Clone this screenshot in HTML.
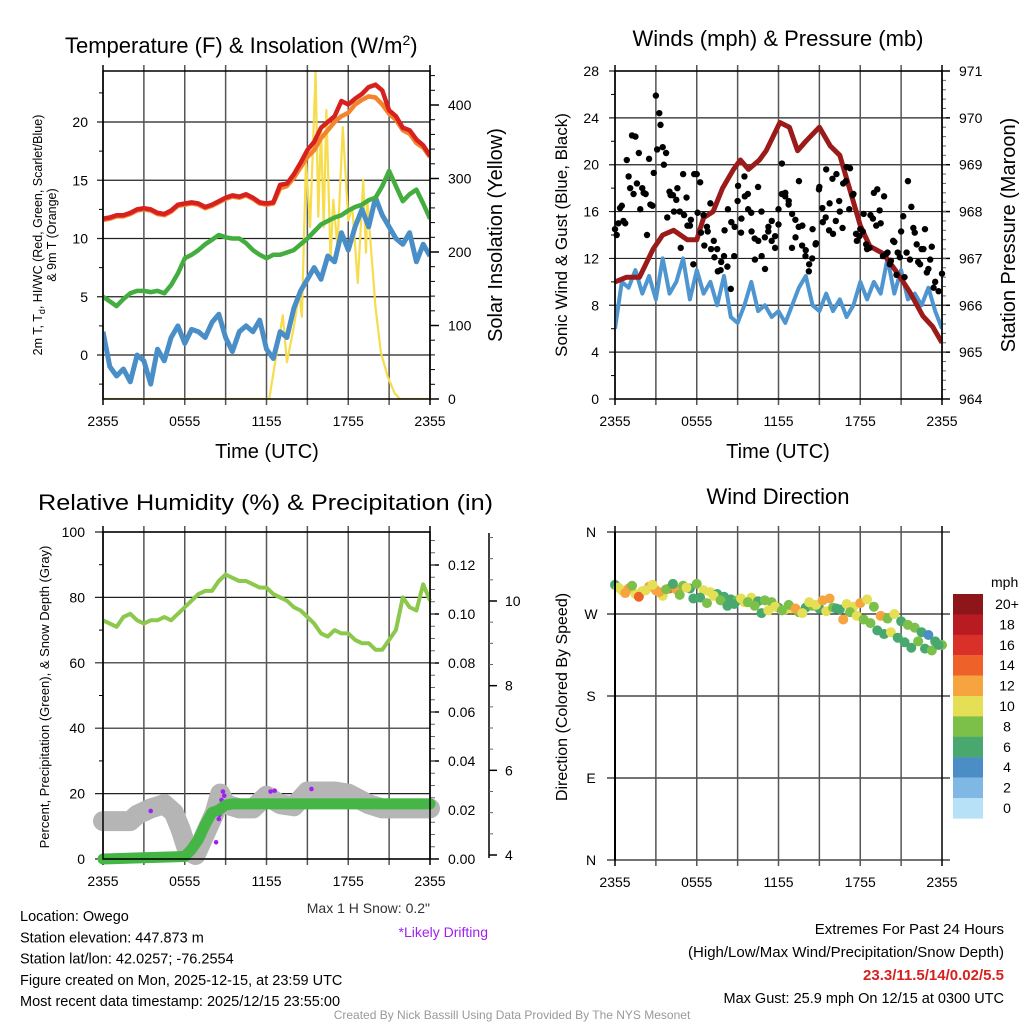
<!DOCTYPE html>
<html><head><meta charset="utf-8"><style>
html,body{margin:0;padding:0;background:#fff;width:1024px;height:1024px;overflow:hidden}
svg{display:block;font-family:"Liberation Sans",sans-serif}
</style></head><body>
<svg id="fig" width="1024" height="1024" viewBox="0 0 1024 1024"></svg>
<script>
// ---------- DATA ----------
const xTickLabels = ["2355","0555","1155","1755","2355"];
const tempT = [11.7,11.8,12.0,12.0,12.2,12.5,12.6,12.5,12.2,12.1,12.4,12.9,13.0,13.1,13.0,12.7,12.9,13.2,13.5,13.7,13.6,13.8,13.5,13.1,13.0,13.1,14.6,14.7,15.5,16.5,17.6,18.3,19.5,20.0,20.5,21.8,21.5,22.0,22.4,23.0,23.2,22.7,21.0,20.5,19.5,19.3,18.5,18.0,17.1];
const temp9 = [11.6,11.7,11.9,11.9,12.1,12.4,12.5,12.4,12.1,12.0,12.3,12.8,12.9,13.0,12.9,12.6,12.8,13.1,13.4,13.6,13.5,13.7,13.4,13.0,12.9,13.0,14.3,14.5,15.2,16.1,17.0,17.6,18.6,19.3,20.0,20.5,20.8,21.5,21.9,22.2,22.1,21.5,20.7,20.2,19.3,19.0,18.2,17.8,17.0];
const dewPt = [5.0,4.6,4.2,4.8,5.3,5.5,5.5,5.4,5.5,5.3,6.0,7.0,8.3,8.6,9.0,9.5,9.9,10.3,10.1,10.0,10.0,9.6,9.0,8.6,8.3,8.6,8.6,8.8,9.0,9.5,10.0,10.6,11.2,11.5,11.8,12.0,12.4,12.7,12.9,13.3,13.5,14.5,15.8,14.5,13.2,13.8,14.2,13.0,11.7];
const windChill = [2.0,-1.0,-1.8,-1.2,-2.3,0.0,-0.5,-2.5,0.5,-0.5,1.5,2.5,1.0,2.2,2.0,1.5,2.8,3.5,1.5,0.3,2.0,2.5,2.0,3.0,0.5,-0.3,2.0,1.5,4.0,5.5,6.5,7.5,6.5,8.5,8.0,10.5,9.0,11.0,12.5,11.0,13.5,12.0,11.0,10.0,9.5,10.5,8.0,9.5,8.5];
const solarHours = [0,12.2,13.2,13.5,14.0,14.4,14.6,14.9,15.2,15.6,15.8,16.0,16.2,16.4,16.7,16.9,17.2,17.6,18.0,18.3,18.7,19.1,19.3,19.4,20.0,20.4,20.9,21.4,21.8,24];
const solarValues = [0,0,114,50,98,144,112,325,234,445,248,370,234,393,189,271,207,370,243,261,158,298,199,271,125,63,30,8,0,0];
const windSpeed = [6,10,9.5,11,9,10.5,8.5,12,9,10,12,8.5,11,9,10,8,10.5,7,6.5,8,10,7.5,8,7,7.5,6.5,8,9.5,10.5,8,7.5,9,7.5,8.5,7,8,10,8.5,10,9,12,9,11,8.5,9,8,9.5,7.5,6];
const pressureHours = [0,0.85,1.8,2.8,3.5,4.3,5.3,6.0,6.5,7.2,7.9,8.7,9.2,9.8,10.6,11.1,12.1,12.8,13.4,14.0,15.0,15.8,16.5,17.2,18.0,18.7,19.7,20.7,21.6,22.6,23.3,24];
const pressureValues = [966.5,966.6,966.6,967.2,967.5,967.6,967.4,967.4,967.87,968.0,968.5,968.9,969.1,968.9,969.1,969.3,969.9,969.8,969.3,969.5,969.8,969.4,969.2,968.5,967.7,967.26,967.1,966.7,966.3,965.77,965.55,965.2];
const gustA = [14.5,15,16.5,15,19,22.5,22.4,21,18,17.5,20.5,16.5,25.9,24.4,21.5,21,17.7,17.4,17,16,19.2,17.2,14.8,11.5,19.2,18.5,15.7,14.7,16.7,13.5,12.8,11,12.2,11.3,9.4,12.2,16.9,14.2,19,17.5,15.9,13.7,18.1,16,13.8,14.3,13.5,12.9,16.2,20.1,17.6,16.9,15.8,13.8,18.6,14.8,12.7,11.5,14.5,13.3,18.1,15.1,19.6,16.7,14.1,19.2,16,18.4,19.8,19.7,17.5,13.5,14.5,15.8,12.8,15.7,17.6,17.9,15,17.3,12.5,11.8,13.4,12.5,14.3,10.4,18.6,16.4,14.2,11.7,12.8,14.5,11.1,13,10,9.2,10.7];
const gustB = [14,16.3,15.2,20.4,18,17.5,18.4,16.2,17.6,14,16.6,19.3,21.3,23.4,20,15.5,17.4,16,18,12.9,15.7,14.8,15.3,19.2,15.9,14.2,13.1,14.3,12.8,12.1,10.9,11.7,14.4,16.2,15.1,14.7,18.2,15.4,17.3,16.2,14.3,11.9,13.5,12.2,11.1,14.7,15.2,13.9,14.9,17.5,17.3,16.6,12.9,15.3,14.7,13.1,12.2,10.9,12,13.2,17.9,16.3,15.5,14.4,18.8,15.2,16.9,14.6,18.6,16.2,17.4,14.1,13.9,14.3,13.2,12.9,15.4,14.8,16.1,12.2,12.4,11.5,13.5,10.6,12.1,15.6,12.5,11.9,14.6,13.2,11.5,12.8,10.8,11.9,9.5];
const relHum = [73,72,71,74,75,73,72,73,73,74,73,75,77,79,81,82,82,85,87,86,85,85,84,83,83,81,80,79,77,76,74,72,69,68,70,69,69,67,66,66,64,64,67,70,80,77,76,84,79];
const precipHours = [0,6,6.5,7,7.5,8,8.5,9,9.5,24];
const precipValues = [0,0.001,0.004,0.008,0.014,0.019,0.020,0.022,0.0225,0.0225];
const snowHours = [0,2,2.5,3.5,4.5,5.2,5.7,6.2,6.8,7.5,8.2,8.6,9,10,11,12,13,14,15,17,18,19.5,20.5,24];
const snowValues = [4.8,4.8,4.95,5.1,5.2,5.0,4.6,4.1,4.0,4.5,5.0,5.45,5.2,5.1,5.1,5.4,5.2,5.15,5.5,5.5,5.45,5.2,5.1,5.1];
const driftHours = [3.5,8.3,8.5,8.55,8.7,8.8,8.9,12.3,12.6,15.3];
const driftValues = [5.04,4.3,4.85,4.95,5.3,5.5,5.4,5.5,5.52,5.56];
const dirA = [302,296,298,292,295,300,296,290,298,297,301,298,303,296,294,292,289,286,285,283,288,284,285,283,277,275,276,272,277,279,276,273,277,275,281,278,282,286,278,268,265,270,262,258,255,250,247,240,236];
const spdA = [7,10,12,11,10,13,12,10,14,12,8,6,8,10,10,6,6,7,8,10,10,7,8,8,6,10,10,8,7,8,6,10,8,7,10,10,12,10,8,13,8,10,6,8,8,6,4,7,8];
const dirB = [299,293,301,289,296,302,294,297,303,291,299,287,288,282,290,285,279,281,287,283,279,271,274,278,274,280,276,271,283,280,285,287,276,264,272,268,264,260,252,248,250,244,239,233,240,232,230,236];
const spdB = [10,12,9,14,10,10,12,8,6,8,10,7,6,8,10,8,7,6,10,9,8,7,10,10,8,8,12,10,10,11,13,12,7,12,8,11,8,8,7,6,10,6,7,6,8,6,8,6];
const cbarLabels = ["20+","18","16","14","12","10","8","6","4","2","0"];
const cbarColors = ["#8e1518","#b81b22","#d9312a","#ee6229","#f6a440","#e5df55","#7cc04a","#48a86e","#4b8ec6","#7fb9e3","#b6e1f6"];

// ---------- HELPERS ----------
const NS="http://www.w3.org/2000/svg", svg=document.getElementById('fig');
function el(tag,attrs,parent){const e=document.createElementNS(NS,tag);for(const k in attrs)e.setAttribute(k,attrs[k]);(parent||svg).appendChild(e);return e;}
function txt(s,x,y,size,attrs,parent){const e=el('text',Object.assign({x:x,y:y,'font-size':size},attrs||{}),parent);e.textContent=s;return e;}
function lin(d0,d1,r0,r1){return v=>r0+(v-d0)/(d1-d0)*(r1-r0);}
function hoursOf(arr){return arr.map((_,i)=>i*24/(arr.length-1));}
function pathFrom(hs,vs,X,Y){return hs.map((h,i)=>(i?'L':'M')+X(h).toFixed(1)+','+Y(vs[i]).toFixed(1)).join('');}

function frame(g,x0,x1,y0,y1){
  el('rect',{x:x0,y:y0,width:x1-x0,height:y1-y0,fill:'none',stroke:'#000','stroke-width':1.5},g);
}
function vgrid(g,x0,x1,y0,y1){
  for(let i=0;i<=8;i++){const x=x0+i*(x1-x0)/8;
    el('line',{x1:x,y1:y0-6,x2:x,y2:y1+6,stroke:i%8==0?'#000':'#555','stroke-width':1.5},g);}
  xTickLabels.forEach((s,i)=>{const t=txt(s,x0+i*(x1-x0)/4,y1+27,14,{'text-anchor':'middle'},g);
    
    });
}

// ---------- PANEL 1: Temperature ----------
{
const g=el('g',{});


const x0=103,x1=430,y0=71,y1=399;
const X=lin(0,24,x0,x1), Y=lin(0,20,355,122), YS=lin(0,400,399,105);
[0,5,10,15,20].forEach(v=>{el('line',{x1:x0-6,y1:Y(v),x2:x1,y2:Y(v),stroke:'#222','stroke-width':1.2},g);
  const t=txt(v,x0-15,Y(v)+5,14,{'text-anchor':'end'},g);
  
  });
for(let v=-2.5;v<24;v+=5){el('line',{x1:x0-4,y1:Y(v),x2:x0,y2:Y(v),stroke:'#000'},g);}
[0,100,200,300,400].forEach(v=>{el('line',{x1:x1,y1:YS(v),x2:x1+9,y2:YS(v),stroke:'#000','stroke-width':1.5},g);
  const t=txt(v,x1+18,YS(v)+5,14,{},g);
  
  });
for(let v=20;v<=440;v+=20){if(v%100)el('line',{x1:x1,y1:YS(v),x2:x1+5,y2:YS(v),stroke:'#000'},g);}
vgrid(g,x0,x1,y0,y1);
const clip=el('clipPath',{id:'c1'},g);el('rect',{x:x0,y:y0,width:x1-x0,height:y1-y0},clip);
const pg=el('g',{'clip-path':'url(#c1)'},g);
const sol=el('path',{d:pathFrom(solarHours,solarValues,X,YS),fill:'none',stroke:'#f7dc4c','stroke-width':2.2,'stroke-linejoin':'round'},pg);


const wc=el('path',{d:pathFrom(hoursOf(windChill),windChill,X,Y),fill:'none',stroke:'#4a8ec8','stroke-width':5,'stroke-linejoin':'round'},pg);


const dw=el('path',{d:pathFrom(hoursOf(dewPt),dewPt,X,Y),fill:'none',stroke:'#43ad3f','stroke-width':4.5,'stroke-linejoin':'round'},pg);


const t9=el('path',{d:pathFrom(hoursOf(temp9),temp9,X,Y),fill:'none',stroke:'#f4842c','stroke-width':4.5,'stroke-linejoin':'round'},pg);


const tt=el('path',{d:pathFrom(hoursOf(tempT),tempT,X,Y),fill:'none',stroke:'#d7211f','stroke-width':4.5,'stroke-linejoin':'round'},pg);


frame(g,x0,x1,y0,y1);
const ti=txt('Temperature (F) & Insolation (W/m',65,53,22,{},g);
const sup=el('tspan',{dy:-8,'font-size':14},ti);sup.textContent='2';
const cl=el('tspan',{dy:8},ti);cl.textContent=')';


const yl=el('text',{transform:'translate(42,235) rotate(-90)','text-anchor':'middle','font-size':12.5},g);


const a=el('tspan',{x:0,dy:0},yl);a.textContent='2m T, T';
const s=el('tspan',{dy:3,'font-size':9},yl);s.textContent='d';
const b=el('tspan',{dy:-3},yl);b.textContent=', HI/WC (Red, Green, Scarlet/Blue)';
const c=el('tspan',{x:0,dy:14},yl);c.textContent='& 9m T (Orange)';
const yr=txt('Solar Insolation (Yellow)',0,0,20,{transform:'translate(502,235) rotate(-90)','text-anchor':'middle'},g);


const xl=txt('Time (UTC)',267,458,20,{'text-anchor':'middle'},g);


}

// ---------- PANEL 2: Winds ----------
{
const g=el('g',{});


const x0=615,x1=942,y0=71,y1=399;
const X=lin(0,24,x0,x1), Y=lin(0,28,y1,y0), YP=lin(964,971,y1,y0);
for(let v=0;v<=28;v+=4){el('line',{x1:x0-6,y1:Y(v),x2:x1,y2:Y(v),stroke:'#222','stroke-width':1.2},g);
  const t=txt(v,x0-16,Y(v)+5,14,{'text-anchor':'end'},g);
  
  }
for(let v=2;v<28;v+=4){el('line',{x1:x0-4,y1:Y(v),x2:x0,y2:Y(v),stroke:'#000'},g);}
for(let v=964;v<=971;v++){el('line',{x1:x1,y1:YP(v),x2:x1+8,y2:YP(v),stroke:'#000','stroke-width':1.5},g);
  const t=txt(v,x1+17,YP(v)+5,14,{},g);
  
  }
for(let v=964.2;v<971;v+=0.2){el('line',{x1:x1,y1:YP(v),x2:x1+4,y2:YP(v),stroke:'#666'},g);}
vgrid(g,x0,x1,y0,y1);
const clip=el('clipPath',{id:'c2'},g);el('rect',{x:x0,y:y0,width:x1-x0,height:y1-y0},clip);
const pg=el('g',{'clip-path':'url(#c2)'},g);
const ws=el('path',{d:pathFrom(hoursOf(windSpeed),windSpeed,X,Y),fill:'none',stroke:'#4f96d0','stroke-width':4,'stroke-linejoin':'round'},pg);


const gg=el('g',{},g);


gustA.forEach((v,i)=>{const d=el('circle',{cx:X(i*24/(gustA.length-1)),cy:Y(v),r:3.2,fill:'#000'},gg);
  
  });
gustB.forEach((v,i)=>{const d=el('circle',{cx:X((i+0.5)*24/gustA.length),cy:Y(v),r:3.2,fill:'#000'},gg);
  
  });
const pr=el('path',{d:pathFrom(pressureHours,pressureValues,X,YP),fill:'none',stroke:'#9b1b1b','stroke-width':5,'stroke-linejoin':'round'},pg);


frame(g,x0,x1,y0,y1);
const ti=txt('Winds (mph) & Pressure (mb)',778,46,22,{'text-anchor':'middle'},g);


const yl=txt('Sonic Wind & Gust (Blue, Black)',0,0,17,{transform:'translate(567,235) rotate(-90)','text-anchor':'middle'},g);


const yr=txt('Station Pressure (Maroon)',0,0,20,{transform:'translate(1015,235) rotate(-90)','text-anchor':'middle'},g);


const xl=txt('Time (UTC)',778,458,20,{'text-anchor':'middle'},g);


}

// ---------- PANEL 3: RH & Precip ----------
{
const g=el('g',{});


const x0=103,x1=430,y0=532,y1=859;
const X=lin(0,24,x0,x1), Y=lin(0,100,y1,y0), YR=lin(0,0.12,y1,565), YSn=lin(4,10,855,601);
for(let v=0;v<=100;v+=20){el('line',{x1:x0-8,y1:Y(v),x2:x1,y2:Y(v),stroke:'#222','stroke-width':1.2},g);
  const t=txt(v,x0-18,Y(v)+5,14,{'text-anchor':'end'},g);
  
  }
for(let v=10;v<100;v+=20){el('line',{x1:x0-4,y1:Y(v),x2:x0,y2:Y(v),stroke:'#000'},g);}
for(let v=0;v<=0.121;v+=0.02){el('line',{x1:x1,y1:YR(v),x2:x1+9,y2:YR(v),stroke:'#000','stroke-width':1.5},g);
  const t=txt(v.toFixed(2),x1+18,YR(v)+5,14,{},g);
  
  }
for(let v=0.005;v<0.134;v+=0.005){el('line',{x1:x1,y1:YR(v),x2:x1+5,y2:YR(v),stroke:'#666'},g);}
el('line',{x1:489,y1:533,x2:489,y2:858,stroke:'#000','stroke-width':1.5},g);
[4,6,8,10].forEach(v=>{el('line',{x1:489,y1:YSn(v),x2:497,y2:YSn(v),stroke:'#000','stroke-width':1.5},g);
  const t=txt(v,505,YSn(v)+5,14,{},g);
  
  });
for(let v=4.5;v<11.6;v+=0.5){if(v%2)el('line',{x1:489,y1:YSn(v),x2:493,y2:YSn(v),stroke:'#666'},g);}
vgrid(g,x0,x1,y0,y1);
const sn=el('path',{d:pathFrom(snowHours,snowValues,X,YSn),fill:'none',stroke:'#b5b5b5','stroke-width':20,'stroke-linejoin':'round','stroke-linecap':'round'},g);


driftHours.forEach((h,i)=>{const d=el('circle',{cx:X(h),cy:YSn(driftValues[i]),r:2.3,fill:'#a020f0'},g);
  
  });
const pc=el('path',{d:pathFrom(precipHours,precipValues,X,YR),fill:'none',stroke:'#45b545','stroke-width':11,'stroke-linejoin':'round','stroke-linecap':'round'},g);


const rh=el('path',{d:pathFrom(hoursOf(relHum),relHum,X,Y),fill:'none',stroke:'#8cc84b','stroke-width':4,'stroke-linejoin':'round'},g);


frame(g,x0,x1,y0,y1);
const ti=txt('Relative Humidity (%) & Precipitation (in)',38,510,22,{textLength:455,lengthAdjust:'spacingAndGlyphs'},g);


const yl=txt('Percent, Precipitation (Green), & Snow Depth (Gray)',0,0,13,{transform:'translate(49,697) rotate(-90)','text-anchor':'middle'},g);


const sn2=txt('Max 1 H Snow: 0.2"',430,913,14,{'text-anchor':'end',fill:'#333'},g);


const dr=txt('*Likely Drifting',488,937,14,{'text-anchor':'end',fill:'#a020f0'},g);


}

// ---------- PANEL 4: Wind Direction ----------
{
const g=el('g',{});


const x0=615,x1=942,y0=532,y1=860;
const X=lin(0,24,x0,x1), Y=lin(0,360,y1,y0);
const labs=['N','E','S','W','N'];
labs.forEach((s,i)=>{const v=i*90;el('line',{x1:x0-8,y1:Y(v),x2:x1+8,y2:Y(v),stroke:'#222','stroke-width':1.2},g);
  const t=txt(s,591,Y(v)+5,14,{'text-anchor':'middle'},g);
  
  });
vgrid(g,x0,x1,y0,y1);
const colorOf=s=>cbarColors[10-Math.min(10,Math.floor(s/2))];
dirA.forEach((d,i)=>{const c=el('circle',{cx:X(i*24/(dirA.length-1)),cy:Y(d),r:5,fill:colorOf(spdA[i])},g);
  
  });
dirB.forEach((d,i)=>{const c=el('circle',{cx:X((i+0.5)*24/dirB.length),cy:Y(d),r:5,fill:colorOf(spdB[i])},g);
  
  });
el('line',{x1:x0,y1:y0,x2:x0,y2:y1,stroke:'#000','stroke-width':2},g);
const ti=txt('Wind Direction',778,504,22,{'text-anchor':'middle'},g);


const yl=txt('Direction (Colored By Speed)',0,0,16,{transform:'translate(567,697) rotate(-90)','text-anchor':'middle'},g);


const cb=el('g',{},g);


const mt=txt('mph',991,587,14,{},cb);


cbarColors.forEach((c,i)=>{const r=el('rect',{x:953,y:594+i*20.4,width:30,height:20.6,fill:c},cb);
  
  
  const t=txt(cbarLabels[i],1007,594+i*20.4+15,14,{'text-anchor':'middle'},cb);
  
  });
}

// ---------- FOOTER TEXT ----------
{
const info=["Location: Owego","Station elevation: 447.873 m","Station lat/lon: 42.0257; -76.2554","Figure created on Mon, 2025-12-15, at 23:59 UTC","Most recent data timestamp: 2025/12/15 23:55:00"];
info.forEach((s,i)=>{const t=txt(s,20,921+i*21.3,14.5,{},svg);
  
  });
const r1=txt('Extremes For Past 24 Hours',1004,934,15,{'text-anchor':'end'});


const r2=txt('(High/Low/Max Wind/Precipitation/Snow Depth)',1004,957,15,{'text-anchor':'end'});


const r3=txt('23.3/11.5/14/0.02/5.5',1004,980,15,{'text-anchor':'end',fill:'#d7211f','font-weight':'bold'});


const r4=txt('Max Gust: 25.9 mph On 12/15 at 0300 UTC',1004,1003,14.5,{'text-anchor':'end'});


const f=txt('Created By Nick Bassill Using Data Provided By The NYS Mesonet',512,1019,12,{'text-anchor':'middle',fill:'#999'});


}
</script>
</body></html>
